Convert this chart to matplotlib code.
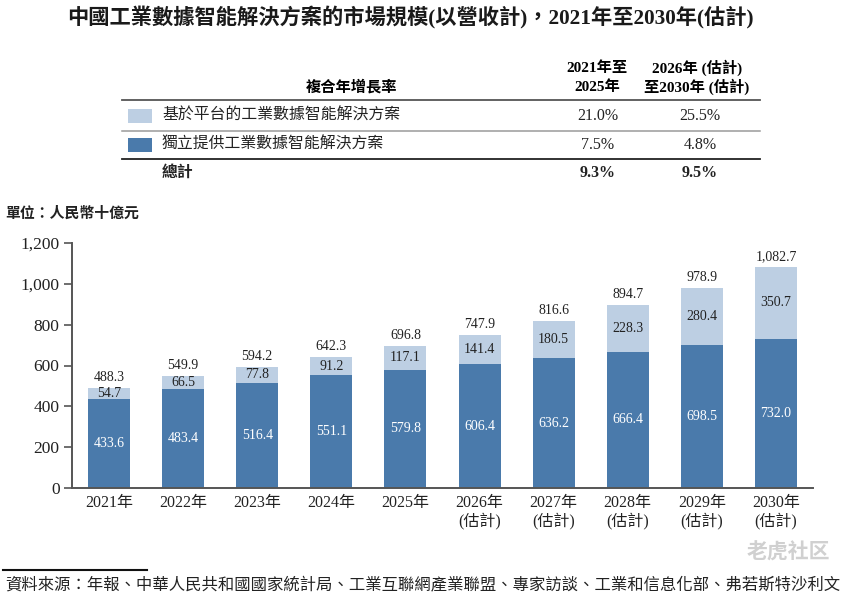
import matplotlib
matplotlib.use("Agg")
import matplotlib.pyplot as plt
from matplotlib.lines import Line2D
from matplotlib.patches import Rectangle
from matplotlib.ticker import FuncFormatter

plt.rcParams['font.family'] = ['Liberation Serif', 'Noto Sans CJK TC']

# ---- data ----
years = ["2021年", "2022年", "2023年", "2024年", "2025年",
         "2026年\n(估計)", "2027年\n(估計)", "2028年\n(估計)", "2029年\n(估計)", "2030年\n(估計)"]
independent = [433.6, 483.4, 516.4, 551.1, 579.8, 606.4, 636.2, 666.4, 698.5, 732.0]
platform = [54.7, 66.5, 77.8, 91.2, 117.1, 141.4, 180.5, 228.3, 280.4, 350.7]
totals = [488.3, 549.9, 594.2, 642.3, 696.8, 747.9, 816.6, 894.7, 978.9, 1082.7]

series_names = ["基於平台的工業數據智能解決方案", "獨立提供工業數據智能解決方案", "總計"]
cagr_2125 = ["21.0%", "7.5%", "9.3%"]
cagr_2630 = ["25.5%", "4.8%", "9.5%"]
yticks = [0, 200, 400, 600, 800, 1000, 1200]

DARK = "#4a7aab"
LIGHT = "#bdcfe3"
AXC = "#555555"

W, H = 844, 602
fig = plt.figure(figsize=(W / 100, H / 100), dpi=100)
fig.patch.set_facecolor("white")

def fx(x):
    return x / W

def fy(y):
    return 1 - y / H

# ---- title ----
fig.text(fx(410), fy(18), "中國工業數據智能解決方案的市場規模(以營收計)，2021年至2030年(估計)",
         ha="center", va="center", fontsize=15.3, fontweight="bold", color="#1a1a1a")

# ---- CAGR table ----
fig.text(fx(352), fy(87), "複合年增長率", ha="center", va="center", fontsize=11, fontweight="bold")
fig.text(fx(597), fy(68), "2021年至", ha="center", va="center", fontsize=11, fontweight="bold")
fig.text(fx(597), fy(87), "2025年", ha="center", va="center", fontsize=11, fontweight="bold")
fig.text(fx(697), fy(68), "2026年 (估計)", ha="center", va="center", fontsize=11, fontweight="bold")
fig.text(fx(697), fy(87), "至2030年 (估計)", ha="center", va="center", fontsize=11, fontweight="bold")

for y, c, lw in [(100, "#555555", 1.3), (131, "#9a9a9a", 1.1), (159, "#222222", 1.3)]:
    fig.add_artist(Line2D([fx(122), fx(760)], [fy(y), fy(y)], transform=fig.transFigure,
                          color=c, lw=lw))

row_y = [116, 145, 173]
sq_colors = [LIGHT, DARK]
for i, (name, a, b) in enumerate(zip(series_names, cagr_2125, cagr_2630)):
    bold = (i == 2)
    if i < 2:
        fig.add_artist(Rectangle((fx(128), fy(row_y[i] + 7)), 24 / W, 14 / H,
                                 transform=fig.transFigure, facecolor=sq_colors[i], edgecolor="none"))
    fig.text(fx(162), fy(row_y[i]), name, ha="left", va="center", fontsize=11.4,
             fontweight="bold" if bold else "normal", color="#222222")
    fig.text(fx(598), fy(row_y[i]), a, ha="center", va="center", fontsize=11.5,
             fontweight="bold" if bold else "normal", color="#222222")
    fig.text(fx(700), fy(row_y[i]), b, ha="center", va="center", fontsize=11.5,
             fontweight="bold" if bold else "normal", color="#222222")

# ---- unit label ----
fig.text(fx(5), fy(214), "單位：人民幣十億元", ha="left", va="center", fontsize=10.7,
         fontweight="bold", color="#222222")

# ---- chart ----
ax = fig.add_axes([fx(72), fy(488), (813 - 72) / W, (488 - 243) / H])
x = list(range(len(years)))
bw = 0.567
ax.bar(x, independent, width=bw, color=DARK, zorder=2)
ax.bar(x, platform, width=bw, bottom=independent, color=LIGHT, zorder=2)

for i in x:
    d, p, t = independent[i], platform[i], totals[i]
    ax.text(i, d / 2, f"{d:,.1f}", ha="center", va="center", color="white", fontsize=10)
    ax.text(i, d + p / 2, f"{p:,.1f}", ha="center", va="center", color="#222222", fontsize=10)
    ax.annotate(f"{t:,.1f}", (i, t), xytext=(0, 3), textcoords="offset points",
                ha="center", va="bottom", color="#222222", fontsize=10)

ax.set_xlim(-0.5, 9.5)
ax.set_ylim(0, 1200)
ax.set_yticks(yticks)
ax.yaxis.set_major_formatter(FuncFormatter(lambda v, pos: f"{v:,.0f}"))
ax.set_xticks(x)
ax.set_xticklabels(years, fontsize=11.5, linespacing=1.15, color="#222222")
ax.tick_params(axis="y", length=6, width=1.2, color=AXC, pad=3, labelsize=12.5, labelcolor="#222222")
ax.tick_params(axis="x", length=0, pad=5)
for s in ["top", "right"]:
    ax.spines[s].set_visible(False)
for s in ["left", "bottom"]:
    ax.spines[s].set_color(AXC)
    ax.spines[s].set_linewidth(1.4)

# ---- watermark ----
fig.text(fx(830), fy(552), "老虎社区", ha="right", va="center", fontsize=15,
         color="#d0d0d0", fontweight="bold", family=["Noto Sans CJK SC"])

# ---- footer ----
fig.add_artist(Line2D([fx(3), fx(147)], [fy(570), fy(570)], transform=fig.transFigure,
                      color="#111111", lw=1.5))
fig.text(fx(5), fy(586),
         "資料來源：年報、中華人民共和國國家統計局、工業互聯網產業聯盟、專家訪談、工業和信息化部、弗若斯特沙利文",
         ha="left", va="center", fontsize=11.75, color="#222222")

fig.savefig("out.png", dpi=100)
